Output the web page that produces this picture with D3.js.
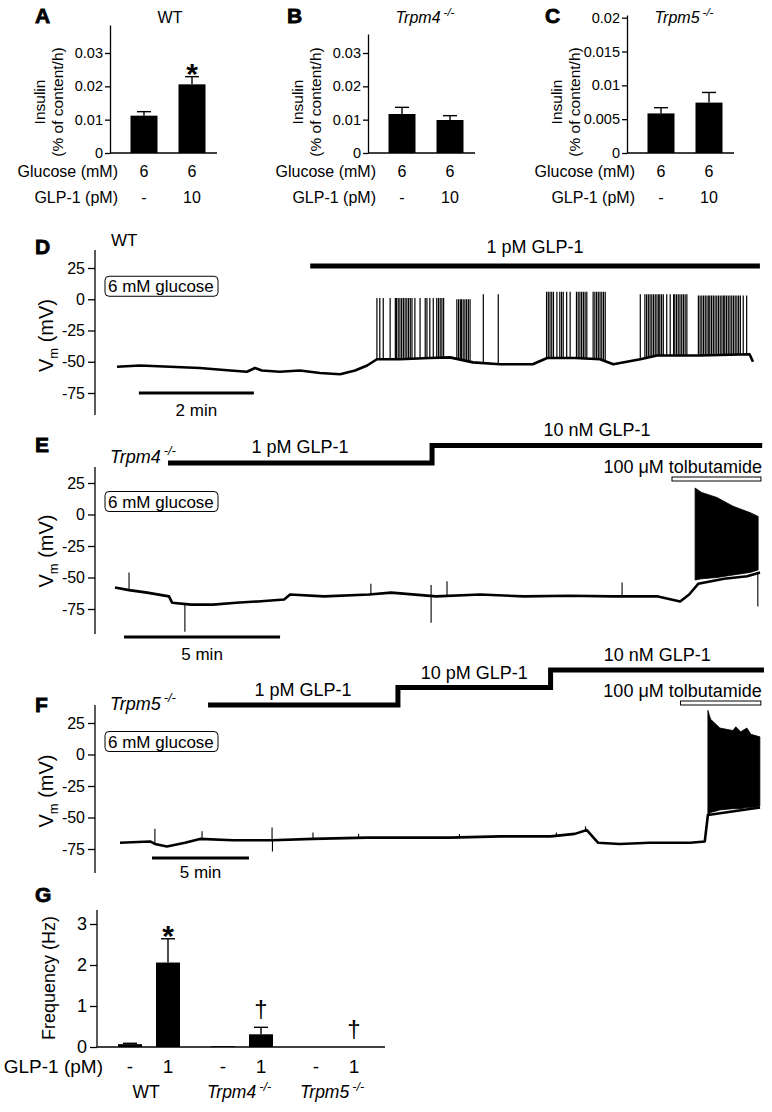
<!DOCTYPE html>
<html>
<head>
<meta charset="utf-8">
<script src="https://cdn.jsdelivr.net/npm/d3@7"></script>
<style>
  body { margin: 0; background: #fff; }
  svg { display: block; font-family: "Liberation Sans", Arial, Helvetica, sans-serif; }
</style>
</head>
<body>
<svg id="fig" width="772" height="1112"></svg>
<script>
// ---------- data: insulin secretion (A-C) ----------
const glucoseRow = ["6", "6"];
const glp1Doses = ["-", "10"];
const insulinWT = [0.0112, 0.0206];
const insulinWTErr = [0.0012, 0.0023];
const insulinTrpm4 = [0.0117, 0.0099];
const insulinTrpm4Err = [0.0020, 0.0013];
const insulinTrpm5 = [0.00585, 0.00745];
const insulinTrpm5Err = [0.00085, 0.0015];
const insulinTicks = [0, 0.01, 0.02, 0.03];
const insulinTicksC = [0, 0.005, 0.01, 0.015, 0.02];

// ---------- data: membrane potential traces (D-F), time in min, Vm in mV ----------
const vmTicks = [-75, -50, -25, 0, 25];

const traceD = [[0, -54], [0.40, -53], [0.92, -54], [1.44, -55], [1.97, -57], [2.26, -58], [2.40, -55],
  [2.52, -57], [2.83, -58], [3.18, -57], [3.53, -59], [3.88, -60], [4.14, -57], [4.35, -53], [4.52, -48],
  [4.92, -48], [5.44, -47], [5.79, -46.5], [6.19, -50.5], [6.66, -52], [7.23, -52], [7.48, -47],
  [7.97, -47], [8.40, -48], [8.63, -52], [9.10, -48], [9.39, -45], [10.14, -45], [11.0, -44], [11.06, -50]];
const spikesD = [
  {peak: 1, times: [4.52, 4.57, 4.63, 4.75, 4.84, 4.86, 4.89, 4.92, 4.95, 4.98, 5.01, 5.04, 5.07, 5.10,
    5.13, 5.18, 5.27, 5.36, 5.39, 5.44, 5.50, 5.56, 5.59, 5.62, 5.65, 5.68]},
  {peak: 0, times: [5.91, 5.94, 5.97, 5.99, 6.02, 6.05, 6.08, 6.11, 6.14]},
  {peak: 4, times: [6.37, 6.63]},
  {peak: 6, times: [7.47, 7.50, 7.53, 7.56, 7.59, 7.65, 7.70, 7.73, 7.76, 7.82, 7.88, 7.99, 8.02, 8.05,
    8.08, 8.11, 8.14, 8.17, 8.28, 8.31, 8.34, 8.37, 8.40, 8.43, 8.46, 8.49]},
  {peak: 4, times: [9.10, 9.18, 9.21, 9.24, 9.27, 9.30, 9.33, 9.36, 9.39, 9.42, 9.44, 9.47, 9.50, 9.56,
    9.62, 9.68, 9.70, 9.73, 9.76, 9.79, 9.82, 9.85, 9.88, 9.91]},
  {peak: 3, times: [10.11, 10.14, 10.17, 10.20, 10.23, 10.26, 10.29, 10.31, 10.34, 10.37, 10.40, 10.43,
    10.46, 10.49, 10.52, 10.55, 10.57, 10.60, 10.63, 10.66, 10.69, 10.72, 10.75, 10.78, 10.81, 10.84,
    10.89, 10.95]}
];

const traceE = [[0, -58], [0.45, -60], [1.03, -62], [1.73, -65], [1.83, -70], [2.44, -71.5], [3.14, -71.5],
  [3.88, -70], [4.58, -69], [5.42, -67.5], [5.61, -63.5], [6.70, -65], [8.14, -63.5], [8.85, -62],
  [10.29, -65], [11.70, -63.5], [13.11, -65], [14.55, -64.5], [15.96, -65], [17.40, -65], [18.11, -69],
  [18.40, -63.5], [18.69, -55], [19.52, -51], [20.26, -49], [20.67, -46]];
const eventsE = [[0.45, -46], [2.24, -93], [8.2, -55], [10.13, -86], [10.13, -56], [10.64, -53],
  [16.25, -54], [20.6, -73]];
const firingE = [[18.59, -52, 21], [18.8, -51, 17.5], [19.29, -50, 13.5], [19.81, -48, 6.5],
  [20.35, -46, 1.5], [20.61, -44, -1.5]];

const traceF = [[0, -70], [1.55, -69], [1.80, -71], [2.42, -73], [3.35, -70], [4.12, -67], [5.82, -68],
  [7.84, -68], [9.95, -67], [12.73, -66], [14.43, -66], [17.0, -66], [19.6, -65], [22.2, -65],
  [23.45, -63], [24.07, -60], [24.64, -70], [25.77, -71], [27.3, -70], [29.4, -70], [30.15, -69],
  [30.31, -48], [33.0, -42]];
const eventsF = [[1.80, -59], [4.23, -61], [7.84, -58], [7.86, -77], [9.95, -62], [12.3, -63],
  [17.5, -63], [22.5, -62], [24.0, -57]];
const firingF = [[30.31, -48, 35], [30.45, -46, 28], [30.93, -44, 21], [31.6, -43, 19], [31.75, -43, 22],
  [32.0, -43, 18], [32.32, -42, 21], [32.53, -42, 16], [32.99, -41, 14]];

// GLP-1 application steps: [start, end, label]
const glp1D = [[3.36, 11.18, "1 pM GLP-1"]];
const glp1E = [[1.70, 10.16, "1 pM GLP-1"], [10.16, 20.74, "10 nM GLP-1"]];
const glp1F = [[4.54, 14.33, "1 pM GLP-1"], [14.33, 22.2, "10 pM GLP-1"], [22.2, 33.2, "10 nM GLP-1"]];
const tolbE = [17.85, 20.70];
const tolbF = [28.9, 33.04];

// ---------- data: firing frequency (G) ----------
const freqGroups = ["WT", "Trpm4", "Trpm5"];
const freqDoses = ["-", "1"];
const freqMean = [[0.07, 2.06], [0.02, 0.31], [0, 0]];
const freqErr = [[0.02, 0.58], [0, 0.17], [0, 0]];
const freqMarks = [[null, "*"], [null, "†"], [null, "†"]];
const freqTicks = [0, 1, 2, 3];

// ---------- drawing ----------
const svg = d3.select("#fig");

function panelLetter(letter, x, y) {
  svg.append("text").attr("x", x).attr("y", y).text(letter)
    .attr("font-size", 21).attr("font-weight", "bold")
    .attr("stroke", "#000").attr("stroke-width", 0.8);
}

function genotype(g, name, x, y, size, anchor) {
  const t = g.append("text").attr("x", x).attr("y", y).attr("font-size", size)
    .attr("text-anchor", anchor || "start");
  if (name === "WT") { t.text("WT"); return t; }
  t.append("tspan").attr("font-style", "italic").text(name);
  t.append("tspan").attr("font-style", "italic").attr("font-size", size * 0.72)
    .attr("dx", 3).attr("dy", -size * 0.42).text("-/-");
  return t;
}

function styleAxis(a, size) {
  a.attr("font-family", null).attr("font-size", size);
  a.selectAll("text").attr("fill", "#000");
  a.selectAll("line, path").attr("stroke", "#000").attr("stroke-width", 1.3);
}

function barPanel(p) {
  const g = svg.append("g");
  const y = d3.scaleLinear().domain([0, p.yMax]).range([153, p.axisTop]);
  const x = d3.scalePoint().domain(glp1Doses).range([p.axisX + 34, p.axisX + 82]);

  g.append("g").attr("transform", `translate(${p.axisX},0)`)
    .call(d3.axisLeft(y).tickValues(p.ticks).tickSize(5).tickPadding(2).tickSizeOuter(0)
      .tickFormat(d => String(d)))
    .call(a => styleAxis(a, 14.5));
  g.append("line").attr("x1", p.axisX).attr("x2", p.axisX + 107)
    .attr("y1", y(0)).attr("y2", y(0)).attr("stroke", "#000").attr("stroke-width", 1.3);

  glp1Doses.forEach((d, i) => {
    const cx = x(d), v = p.mean[i], e = p.err[i];
    g.append("rect").attr("x", cx - 13.5).attr("width", 27)
      .attr("y", y(v)).attr("height", y(0) - y(v)).attr("fill", "#000");
    g.append("line").attr("x1", cx).attr("x2", cx).attr("y1", y(v)).attr("y2", y(v + e))
      .attr("stroke", "#000").attr("stroke-width", 1.4);
    g.append("line").attr("x1", cx - 7).attr("x2", cx + 7).attr("y1", y(v + e)).attr("y2", y(v + e))
      .attr("stroke", "#000").attr("stroke-width", 1.4);
    if (p.star && i === 1) {
      g.append("text").attr("x", cx).attr("y", y(v + e) + 7).attr("text-anchor", "middle")
        .attr("font-size", 30).attr("font-weight", "bold").text("*");
    }
    g.append("text").attr("x", cx).attr("y", 177).attr("text-anchor", "middle")
      .attr("font-size", 16).text(glucoseRow[i]);
    g.append("text").attr("x", cx).attr("y", 203).attr("text-anchor", "middle")
      .attr("font-size", 16).text(d);
  });

  g.append("text").attr("x", p.axisX + 8).attr("y", 177).attr("text-anchor", "end")
    .attr("font-size", 16).text("Glucose (mM)");
  g.append("text").attr("x", p.axisX + 8).attr("y", 203).attr("text-anchor", "end")
    .attr("font-size", 16).text("GLP-1 (pM)");

  g.append("text").attr("transform", `translate(${p.axisX - 65},102) rotate(-90)`)
    .attr("text-anchor", "middle").attr("font-size", 15.5).text("Insulin");
  g.append("text").attr("transform", `translate(${p.axisX - 47},102) rotate(-90)`)
    .attr("text-anchor", "middle").attr("font-size", 15.5).text("(% of content/h)");

  genotype(g, p.title, p.titleX, 23, 16, "middle");
  panelLetter(p.letter, p.letterX, 23);
}

barPanel({letter: "A", letterX: 35, title: "WT", titleX: 170, axisX: 110, axisTop: 25, yMax: 0.0384,
  ticks: insulinTicks, mean: insulinWT, err: insulinWTErr, star: true});
barPanel({letter: "B", letterX: 287, title: "Trpm4", titleX: 425, axisX: 368, axisTop: 34, yMax: 0.0357,
  ticks: insulinTicks, mean: insulinTrpm4, err: insulinTrpm4Err});
barPanel({letter: "C", letterX: 545, title: "Trpm5", titleX: 684, axisX: 627, axisTop: 15, yMax: 0.0204,
  ticks: insulinTicksC, mean: insulinTrpm5, err: insulinTrpm5Err});

function interp(trace, t) {
  const i = d3.bisector(d => d[0]).left(trace, t);
  if (i <= 0) return trace[0][1];
  if (i >= trace.length) return trace[trace.length - 1][1];
  const a = trace[i - 1], b = trace[i];
  return a[1] + (b[1] - a[1]) * (t - a[0]) / (b[0] - a[0]);
}

function tracePanel(p) {
  const g = svg.append("g");
  const x = d3.scaleLinear().domain(p.tDomain).range(p.xRange);
  const y = d3.scaleLinear().domain([-75, 25]).range(p.yRange);

  g.append("g").attr("transform", `translate(95,0)`)
    .call(d3.axisLeft(y).tickValues(vmTicks).tickSize(7).tickPadding(3).tickSizeOuter(0)
      .tickFormat(d => String(d)))
    .call(a => styleAxis(a, 16))
    .call(a => a.select(".domain").remove());
  g.append("line").attr("x1", 95).attr("x2", 95).attr("y1", p.axisSpan[0]).attr("y2", p.axisSpan[1])
    .attr("stroke", "#000").attr("stroke-width", 1.3);

  const vl = g.append("text").attr("transform", `translate(53,${(p.yRange[0] + p.yRange[1]) / 2 + 5}) rotate(-90)`)
    .attr("text-anchor", "middle").attr("font-size", 20);
  vl.append("tspan").text("V");
  vl.append("tspan").attr("font-size", 13).attr("dy", 5).text("m");
  vl.append("tspan").attr("dy", -5).text(" (mV)");

  // glucose box
  const gy = y(0);
  g.append("rect").attr("x", 105).attr("y", gy - 23).attr("width", 113).attr("height", 20).attr("rx", 4)
    .attr("fill", "#fff").attr("stroke", "#000").attr("stroke-width", 1);
  g.append("text").attr("x", 108).attr("y", gy - 7).attr("font-size", 17).text("6 mM glucose");

  // baseline trace
  g.append("path").datum(p.trace)
    .attr("d", d3.line().x(d => x(d[0])).y(d => y(d[1])))
    .attr("fill", "none").attr("stroke", "#000").attr("stroke-width", 2.6).attr("stroke-linejoin", "round");

  (p.spikes || []).forEach(b => b.times.forEach(t => {
    g.append("line").attr("x1", x(t)).attr("x2", x(t))
      .attr("y1", y(interp(p.trace, t))).attr("y2", y(b.peak))
      .attr("stroke", "#000").attr("stroke-width", 1.2);
  }));
  (p.events || []).forEach(ev => {
    g.append("line").attr("x1", x(ev[0])).attr("x2", x(ev[0]))
      .attr("y1", y(interp(p.trace, ev[0]))).attr("y2", y(ev[1]))
      .attr("stroke", "#000").attr("stroke-width", 1.1);
  });
  if (p.firing) {
    g.append("path").datum(p.firing)
      .attr("d", d3.area().x(d => x(d[0])).y0(d => y(d[1])).y1(d => y(d[2])))
      .attr("fill", "#000").attr("stroke", "#000").attr("stroke-width", 0.8);
  }

  // GLP-1 step bar
  const lv = i => p.stepY - i * 17.5;
  const pts = [];
  p.glp1.forEach((s, i) => { pts.push([x(s[0]), lv(i)], [x(s[1]), lv(i)]); });
  g.append("path").attr("d", d3.line()(pts)).attr("fill", "none").attr("stroke", "#000")
    .attr("stroke-width", 5).attr("stroke-linejoin", "miter");
  p.glp1.forEach((s, i) => {
    g.append("text").attr("x", (x(s[0]) + x(s[1])) / 2).attr("y", lv(i) - p.labelGap)
      .attr("text-anchor", "middle").attr("font-size", 18).text(s[2]);
  });

  if (p.tolb) {
    g.append("text").attr("x", x(p.tolb[1]) + 1).attr("y", p.stepY + p.tolbDy)
      .attr("text-anchor", "end").attr("font-size", 18).text("100 μM tolbutamide");
    g.append("rect").attr("x", x(p.tolb[0])).attr("y", p.stepY + p.tolbDy + 4)
      .attr("width", x(p.tolb[1]) - x(p.tolb[0])).attr("height", 4)
      .attr("fill", "#fff").attr("stroke", "#000").attr("stroke-width", 1);
  }

  // time scale bar
  g.append("line").attr("x1", x(p.scaleBar[0])).attr("x2", x(p.scaleBar[0] + p.scaleBar[1]))
    .attr("y1", p.scaleY).attr("y2", p.scaleY).attr("stroke", "#000").attr("stroke-width", 3);
  g.append("text").attr("x", x(p.scaleBar[0] + p.scaleBar[1] / 2)).attr("y", p.scaleY + p.scaleTextDy)
    .attr("text-anchor", "middle").attr("font-size", 17).text(p.scaleBar[1] + " min");

  genotype(g, p.genotype, p.genoX, p.genoY, p.genotype === "WT" ? 17 : 18);
  panelLetter(p.letter, 35, p.letterY);
}

tracePanel({letter: "D", letterY: 254, genotype: "WT", genoX: 111, genoY: 246,
  tDomain: [0, 11.06], xRange: [117, 753], yRange: [393, 268], axisSpan: [250, 415],
  trace: traceD, spikes: spikesD, glp1: glp1D, stepY: 266, labelGap: 13,
  scaleBar: [0.38, 2], scaleY: 393, scaleTextDy: 23});
tracePanel({letter: "E", letterY: 452, genotype: "Trpm4", genoX: 110, genoY: 463,
  tDomain: [0, 20.67], xRange: [115, 760], yRange: [609, 483], axisSpan: [467, 634],
  trace: traceE, events: eventsE, firing: firingE, glp1: glp1E, stepY: 463, labelGap: 10,
  tolb: tolbE, tolbDy: 10, scaleBar: [0.29, 5], scaleY: 637, scaleTextDy: 23});
tracePanel({letter: "F", letterY: 712, genotype: "Trpm5", genoX: 110, genoY: 710,
  tDomain: [0, 33.1], xRange: [120, 762], yRange: [849, 723], axisSpan: [705, 873],
  trace: traceF, events: eventsF, firing: firingF, glp1: glp1F, stepY: 705, labelGap: 9,
  tolb: tolbF, tolbDy: -8, scaleBar: [1.65, 5], scaleY: 858, scaleTextDy: 20});

// ---------- G ----------
(function () {
  const g = svg.append("g");
  const y = d3.scaleLinear().domain([0, 3]).range([1047, 924]);
  const gx = d3.scalePoint().domain(freqGroups).range([149, 335]);
  const dx = d3.scalePoint().domain(freqDoses).range([-19, 19]);

  g.append("g").attr("transform", "translate(97,0)")
    .call(d3.axisLeft(y).tickValues(freqTicks).tickSize(7).tickPadding(3).tickSizeOuter(0)
      .tickFormat(d => String(d)))
    .call(a => styleAxis(a, 18))
    .call(a => a.select(".domain").remove());
  g.append("line").attr("x1", 97).attr("x2", 97).attr("y1", 910).attr("y2", y(0))
    .attr("stroke", "#000").attr("stroke-width", 1.3);
  g.append("line").attr("x1", 97).attr("x2", 385).attr("y1", y(0)).attr("y2", y(0))
    .attr("stroke", "#000").attr("stroke-width", 1.3);

  freqGroups.forEach((grp, gi) => {
    freqDoses.forEach((d, di) => {
      const cx = gx(grp) + dx(d), v = freqMean[gi][di], e = freqErr[gi][di];
      if (v > 0) {
        g.append("rect").attr("x", cx - 12).attr("width", 24).attr("y", y(v))
          .attr("height", y(0) - y(v)).attr("fill", "#000");
      }
      if (e > 0) {
        g.append("line").attr("x1", cx).attr("x2", cx).attr("y1", y(v)).attr("y2", y(v + e))
          .attr("stroke", "#000").attr("stroke-width", 1.4);
        g.append("line").attr("x1", cx - 7).attr("x2", cx + 7).attr("y1", y(v + e)).attr("y2", y(v + e))
          .attr("stroke", "#000").attr("stroke-width", 1.4);
      }
      const m = freqMarks[gi][di];
      if (m === "*") {
        g.append("text").attr("x", cx).attr("y", y(v + e) + 7).attr("text-anchor", "middle")
          .attr("font-size", 30).attr("font-weight", "bold").text("*");
      } else if (m === "†") {
        g.append("text").attr("x", cx).attr("y", y(v + e) - 10).attr("text-anchor", "middle")
          .attr("font-size", 24).text("†");
      }
      g.append("text").attr("x", cx).attr("y", 1073).attr("text-anchor", "middle")
        .attr("font-size", 19).text(d);
    });
    genotype(g, grp, gx(grp) - 3, 1098, 17.5, "middle");
  });

  g.append("text").attr("x", 103).attr("y", 1073).attr("text-anchor", "end")
    .attr("font-size", 19).text("GLP-1 (pM)");
  g.append("text").attr("transform", "translate(55,978) rotate(-90)").attr("text-anchor", "middle")
    .attr("font-size", 18).text("Frequency (Hz)");
  panelLetter("G", 35, 902);
})();
</script>
</body>
</html>
